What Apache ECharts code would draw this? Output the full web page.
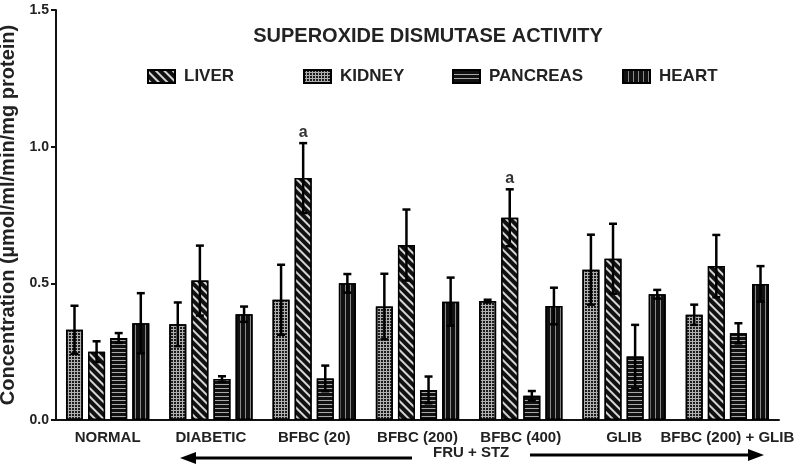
<!DOCTYPE html>
<html>
<head>
<meta charset="utf-8">
<script src="https://cdn.jsdelivr.net/npm/echarts@6/dist/echarts.min.js"></script>
<style>
  html, body { margin: 0; padding: 0; background: #fff; }
  #chart-root { width: 800px; height: 468px; }
</style>
</head>
<body>
<div id="chart-root"></div>
<script>
(function () {
  const FONT = "'Liberation Sans', Arial, sans-serif";

  const categories = ['NORMAL', 'DIABETIC', 'BFBC (20)', 'BFBC (200)', 'BFBC (400)', 'GLIB', 'BFBC (200) + GLIB'];
  const yTicks = [0, 0.5, 1.0, 1.5];

  // bar order inside each group as drawn: kidney, liver, pancreas, heart
  const kidney = [0.33, 0.35, 0.44, 0.415, 0.435, 0.55, 0.385];
  const kidneyErr = [0.088, 0.08, 0.128, 0.12, 0.005, 0.128, 0.037];
  const liver = [0.25, 0.51, 0.885, 0.64, 0.74, 0.59, 0.563];
  const liverErr = [0.038, 0.128, 0.128, 0.13, 0.104, 0.128, 0.114];
  const pancreas = [0.30, 0.15, 0.152, 0.11, 0.089, 0.232, 0.317];
  const pancreasErr = [0.018, 0.01, 0.047, 0.049, 0.017, 0.116, 0.037];
  const heart = [0.354, 0.387, 0.50, 0.433, 0.417, 0.46, 0.498];
  const heartErr = [0.11, 0.028, 0.034, 0.088, 0.067, 0.016, 0.065];
  const liverSig = ['', '', 'a', '', 'a', '', ''];

  const BAR_W = 17;
  const BAR_GAP = 0.3;
  const PITCH = BAR_W * (1 + BAR_GAP);

  const organs = [
    { name: 'KIDNEY', values: kidney, err: kidneyErr, sig: null,
      color: '#b0b0b0', decal: { symbol: 'rect', symbolSize: 1, dashArrayX: [2, 1], dashArrayY: [2, 1], color: '#1c1c1c' } },
    { name: 'LIVER', values: liver, err: liverErr, sig: liverSig,
      color: '#111', decal: { symbol: 'rect', symbolSize: 1, dashArrayX: [1, 0], dashArrayY: [2, 4], rotation: Math.PI / 4, color: '#d6d6d6' } },
    { name: 'PANCREAS', values: pancreas, err: pancreasErr, sig: null,
      color: '#111', decal: { symbol: 'rect', symbolSize: 1, dashArrayX: [1, 0], dashArrayY: [1, 3], color: '#a8a8a8' } },
    { name: 'HEART', values: heart, err: heartErr, sig: null,
      color: '#111', decal: { symbol: 'rect', symbolSize: 1, dashArrayX: [1, 4], dashArrayY: [1, 0], color: '#8a8a8a' } }
  ];

  const barSeries = organs.map(function (o) {
    return {
      name: o.name,
      type: 'bar',
      barWidth: BAR_W,
      barGap: (BAR_GAP * 100) + '%',
      itemStyle: { color: o.color, borderColor: '#000', borderWidth: 1.5, decal: o.decal },
      emphasis: { disabled: true },
      data: o.values
    };
  });

  const errSeries = organs.map(function (o, idx) {
    return {
      type: 'custom',
      name: o.name + '-err',
      z: 5,
      silent: true,
      data: o.values.map(function (v, i) { return [i, v, o.err[i]]; }),
      renderItem: function (params, api) {
        const cat = api.value(0), v = api.value(1), e = api.value(2);
        const off = (idx - 1.5) * PITCH;
        const top = api.coord([cat, v + e]);
        const bot = api.coord([cat, v - e]);
        const x = top[0] + off;
        const cap = 4;
        const st = { stroke: '#000', lineWidth: 2.5 };
        const children = [
          { type: 'line', shape: { x1: x, y1: top[1], x2: x, y2: bot[1] }, style: st },
          { type: 'line', shape: { x1: x - cap, y1: top[1], x2: x + cap, y2: top[1] }, style: st },
          { type: 'line', shape: { x1: x - cap, y1: bot[1], x2: x + cap, y2: bot[1] }, style: st }
        ];
        const sig = o.sig ? o.sig[params.dataIndex] : '';
        if (sig) {
          children.push({ type: 'text', style: { text: sig, x: x, y: top[1] - 3, align: 'center', verticalAlign: 'bottom',
            font: 'bold 16px ' + FONT, fill: '#333' } });
        }
        return { type: 'group', children: children };
      }
    };
  });

  const legendPos = [142, 298, 447, 617];
  const legendOrder = ['LIVER', 'KIDNEY', 'PANCREAS', 'HEART'];
  const legends = legendOrder.map(function (n, i) {
    return {
      data: [n], left: legendPos[i], top: 63, icon: 'rect', itemWidth: 27, itemHeight: 13,
      selectedMode: false,
      textStyle: { fontFamily: FONT, fontWeight: 'bold', fontSize: 17, color: '#222', padding: [0, 0, 0, 4] }
    };
  });

  const chart = echarts.init(document.getElementById('chart-root'));
  chart.setOption({
    animation: false,
    title: {
      text: 'SUPEROXIDE DISMUTASE ACTIVITY', left: 423, top: 21, textAlign: 'center',
      textStyle: { fontFamily: FONT, fontWeight: 'bold', fontSize: 20, color: '#222' }
    },
    legend: legends,
    grid: { left: 56, right: 21, top: 10, bottom: 48, containLabel: false, outerBoundsMode: 'none' },
    xAxis: {
      type: 'category',
      data: categories,
      axisLine: { lineStyle: { color: '#111', width: 2 } },
      axisTick: { alignWithLabel: true, length: 5, lineStyle: { color: '#111', width: 2 } },
      axisLabel: { fontFamily: FONT, fontWeight: 'bold', fontSize: 15, color: '#222', margin: 10, interval: 0 }
    },
    yAxis: {
      type: 'value',
      min: yTicks[0], max: yTicks[yTicks.length - 1], interval: 0.5,
      name: 'Concentration (µmol/ml/min/mg protein)',
      nameLocation: 'middle', nameGap: 35, nameRotate: 90,
      nameTextStyle: { fontFamily: FONT, fontWeight: 'bold', fontSize: 20, color: '#222' },
      axisLine: { show: true, lineStyle: { color: '#111', width: 2 } },
      axisTick: { show: true, length: 5, lineStyle: { color: '#111', width: 2 } },
      splitLine: { show: false },
      axisLabel: { fontFamily: FONT, fontWeight: 'bold', fontSize: 14, color: '#222', margin: 7,
        formatter: function (v) { return v.toFixed(1); } }
    },
    graphic: [
      { type: 'text', left: 433, top: 445, style: { text: 'FRU + STZ', font: 'bold 15px ' + FONT, fill: '#222' } },
      { type: 'line', shape: { x1: 192, y1: 458, x2: 412, y2: 458 }, style: { stroke: '#000', lineWidth: 3 } },
      { type: 'polygon', shape: { points: [[180, 458], [196, 452], [196, 464]] }, style: { fill: '#000' } },
      { type: 'line', shape: { x1: 530, y1: 455, x2: 750, y2: 455 }, style: { stroke: '#000', lineWidth: 3 } },
      { type: 'polygon', shape: { points: [[764, 455], [748, 449], [748, 461]] }, style: { fill: '#000' } }
    ],
    series: barSeries.concat(errSeries)
  });
}());
</script>
</body>
</html>
